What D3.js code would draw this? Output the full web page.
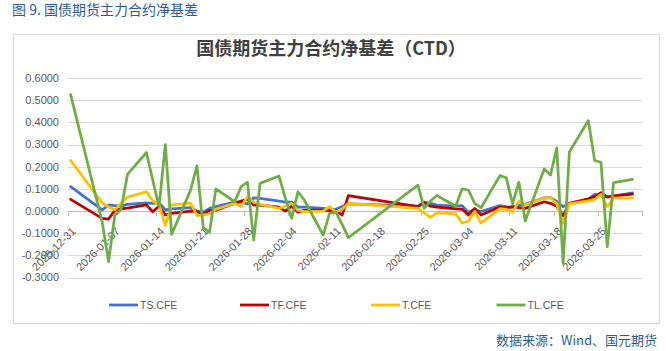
<!DOCTYPE html>
<html><head><meta charset="utf-8">
<script src="https://cdn.jsdelivr.net/npm/d3@7"></script>
<style>html,body{margin:0;padding:0;background:#fff;}svg{display:block;}</style>
</head><body>
<svg id="c" width="666" height="351"></svg>
<script>
const dates = ["2025-12-31","2026-01-05","2026-01-06","2026-01-07","2026-01-08","2026-01-09","2026-01-12","2026-01-13","2026-01-14","2026-01-15","2026-01-16","2026-01-19","2026-01-20","2026-01-21","2026-01-22","2026-01-23","2026-01-26","2026-01-27","2026-01-28","2026-01-29","2026-01-30","2026-02-02","2026-02-03","2026-02-04","2026-02-05","2026-02-06","2026-02-09","2026-02-10","2026-02-11","2026-02-12","2026-02-13","2026-02-24","2026-02-25","2026-02-26","2026-02-27","2026-03-02","2026-03-03","2026-03-04","2026-03-05","2026-03-06","2026-03-09","2026-03-10","2026-03-11","2026-03-12","2026-03-13","2026-03-16","2026-03-17","2026-03-18","2026-03-19","2026-03-20","2026-03-23","2026-03-24","2026-03-25","2026-03-26","2026-03-27","2026-03-30"];
const TS = [0.110,0.005,0.027,0.025,0.022,0.030,0.037,0.035,0.037,0.005,0.010,0.015,0.000,-0.005,0.012,0.020,0.040,0.040,0.032,0.060,0.057,0.045,0.040,0.040,0.018,0.018,0.012,0.008,0.008,0.020,0.032,0.022,0.040,0.035,0.027,0.022,0.024,-0.005,0.006,-0.002,0.025,0.020,0.017,0.027,0.030,0.060,0.061,0.043,0.020,0.035,0.053,0.075,0.070,0.065,0.068,0.082];
const TF = [0.053,-0.033,-0.036,0.003,0.010,0.013,0.028,-0.003,0.022,-0.017,-0.010,0.000,-0.003,-0.013,0.002,0.004,0.035,0.045,0.053,0.027,0.027,0.018,0.000,0.022,-0.005,0.003,0.004,0.002,0.002,-0.018,0.070,0.020,0.038,0.022,0.018,0.010,0.008,-0.018,0.012,-0.018,0.018,0.014,0.020,0.016,0.012,0.042,0.035,0.022,-0.022,0.035,0.055,0.065,0.083,0.063,0.068,0.076];
const T  = [0.228,0.037,0.018,0.006,0.035,0.063,0.087,0.045,0.030,-0.065,0.028,0.036,-0.020,-0.018,-0.012,0.008,0.035,0.020,0.065,0.040,0.030,0.012,0.022,0.035,0.003,-0.002,0.000,0.020,-0.003,0.008,0.035,0.012,-0.008,-0.028,-0.008,-0.012,-0.054,-0.046,-0.002,-0.054,0.011,0.008,-0.005,0.046,0.027,0.060,0.060,0.033,-0.055,0.032,0.046,0.052,0.075,0.020,0.058,0.060];
const TL = [0.525,-0.050,-0.228,-0.020,0.010,0.165,0.264,0.140,0.020,0.300,-0.105,0.095,0.204,-0.075,-0.095,0.100,0.042,0.110,0.130,-0.130,0.125,0.158,0.060,-0.033,0.087,0.050,-0.108,-0.010,-0.005,-0.060,-0.120,0.117,0.012,0.045,0.070,0.022,0.100,0.095,0.035,0.015,0.160,0.150,0.033,0.130,-0.045,0.190,0.162,0.285,-0.236,0.267,0.408,0.228,0.220,-0.160,0.128,0.143];
const seriesNames = ["TS.CFE","TF.CFE","T.CFE","TL.CFE"];
const seriesColors = ["#4472C4","#C00000","#FFC000","#70AD47"];
const yTicks = [-0.3,-0.2,-0.1,0,0.1,0.2,0.3,0.4,0.5,0.6];
const xLabels = ["2025-12-31","2026-01-07","2026-01-14","2026-01-21","2026-01-28","2026-02-04","2026-02-11","2026-02-18","2026-02-25","2026-03-04","2026-03-11","2026-03-18","2026-03-25"];
const titleText = "国债期货主力合约净基差（CTD）";
const captionText = "图 9. 国债期货主力合约净基差";
const sourceText = "数据来源：Wind、国元期货";

const parse = d3.utcParse("%Y-%m-%d");
const DAY = 864e5;
const svg = d3.select("#c");
const cjk = "'Noto Sans CJK SC','Noto Sans',sans-serif";
const lat = "'Liberation Sans','DejaVu Sans',sans-serif";

// caption
svg.append("text").attr("x",12).attr("y",15).attr("font-family",cjk).attr("font-size",14)
  .attr("fill","#2E5C9A").text(captionText);
// frame
svg.append("rect").attr("x",13.5).attr("y",34.5).attr("width",646).attr("height",289)
  .attr("fill","none").attr("stroke","#d9d9d9").attr("stroke-width",1);
// title
svg.append("text").attr("x",331).attr("y",55).attr("text-anchor","middle").attr("font-family",cjk)
  .attr("font-size",18).attr("font-weight","bold").attr("fill","#404040").text(titleText);

const x0 = parse("2025-12-31"), x1 = new Date(parse("2026-03-31").getTime()+DAY);
const x = d3.scaleUtc().domain([x0,x1]).range([67.5,642]);
const y = d3.scaleLinear().domain([-0.3,0.6]).range([277.6,78]);
const mid = d => new Date(parse(d).getTime()+DAY/2);

// grid
svg.append("g").selectAll("line").data(yTicks).join("line")
  .attr("x1",67.5).attr("x2",642).attr("y1",d=>Math.round(y(d))+0.5).attr("y2",d=>Math.round(y(d))+0.5)
  .attr("stroke",d=>d===0?"#bfbfbf":"#d9d9d9").attr("stroke-width",1);
// y labels
svg.append("g").selectAll("text").data(yTicks).join("text")
  .attr("x",59).attr("y",d=>y(d)).attr("dy","0.35em").attr("text-anchor","end")
  .attr("font-family",lat).attr("font-size",11).attr("fill","#595959").text(d=>d3.format(".4f")(d).replace("−","-"));
// x ticks weekly
const tickDates = d3.range(0,14).map(k=>new Date(x0.getTime()+k*7*DAY));
svg.append("g").selectAll("line").data(tickDates).join("line")
  .attr("x1",d=>Math.round(x(d))+0.5).attr("x2",d=>Math.round(x(d))+0.5)
  .attr("y1",Math.round(y(0))).attr("y2",Math.round(y(0))+5).attr("stroke","#bfbfbf");
// x labels
svg.append("g").selectAll("text").data(xLabels).join("text")
  .attr("transform",d=>`translate(${x(mid(d))+3},${y(0)+18}) rotate(-45)`)
  .attr("dy","0.35em").attr("text-anchor","end")
  .attr("font-family",lat).attr("font-size",11).attr("fill","#595959").text(d=>d);

// lines
const all = [TS,TF,T,TL];
const line = d3.line().x((d,i)=>x(mid(dates[i]))).y(d=>y(d));
all.forEach((s,k)=>{
  svg.append("path").datum(s).attr("d",line).attr("fill","none")
    .attr("stroke",seriesColors[k]).attr("stroke-width",2.75)
    .attr("stroke-linejoin","round").attr("stroke-linecap","round");
});

// legend
const legX = [109,240,371,496.5];
seriesNames.forEach((n,k)=>{
  svg.append("line").attr("x1",legX[k]).attr("x2",legX[k]+29).attr("y1",305).attr("y2",305)
    .attr("stroke",seriesColors[k]).attr("stroke-width",2.75);
  svg.append("text").attr("x",legX[k]+31).attr("y",305).attr("dy","0.35em")
    .attr("font-family",lat).attr("font-size",10.5).attr("fill","#595959").text(n);
});
// source
svg.append("text").attr("x",657).attr("y",345).attr("text-anchor","end").attr("font-family",cjk)
  .attr("font-size",13).attr("fill","#2E5C9A").text(sourceText);
</script>
</body></html>
